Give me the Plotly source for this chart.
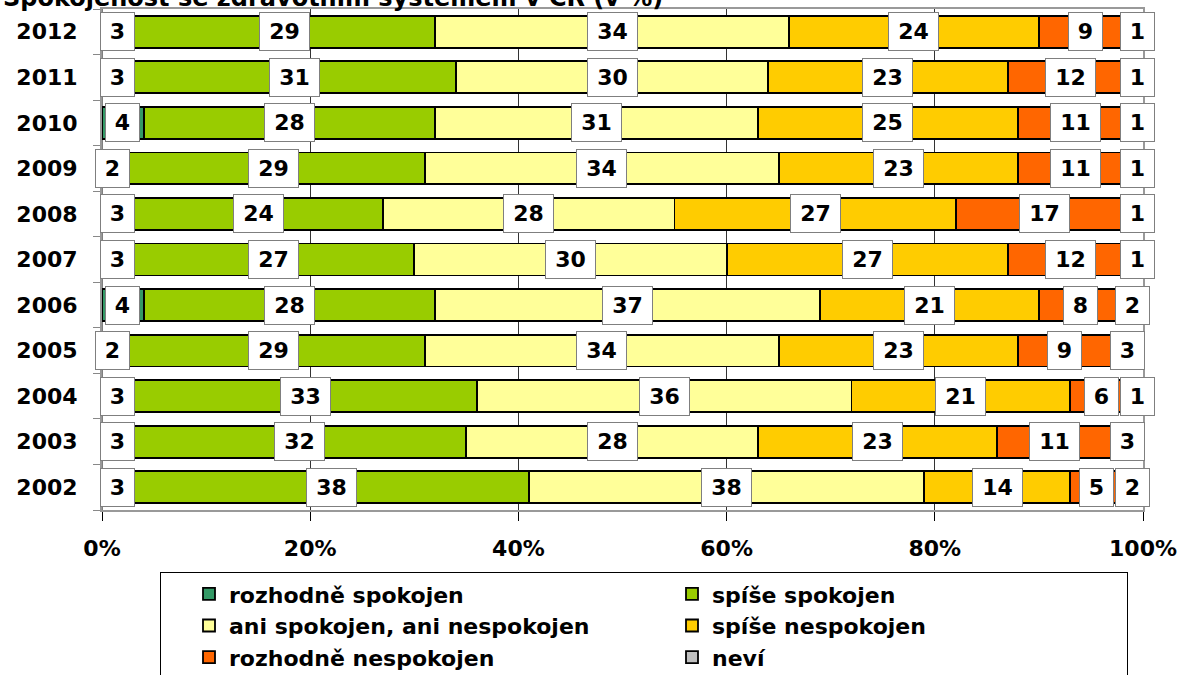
import numpy as np
import plotly.graph_objects as go

years = ["2012", "2011", "2010", "2009", "2008", "2007", "2006", "2005", "2004", "2003", "2002"]
series_names = ["rozhodně spokojen", "spíše spokojen", "ani spokojen, ani nespokojen",
                "spíše nespokojen", "rozhodně nespokojen", "neví"]
rozhodne_spokojen = [3, 3, 4, 2, 3, 3, 4, 2, 3, 3, 3]
spise_spokojen = [29, 31, 28, 29, 24, 27, 28, 29, 33, 32, 38]
ani_ani = [34, 30, 31, 34, 28, 30, 37, 34, 36, 28, 38]
spise_nespokojen = [24, 23, 25, 23, 27, 27, 21, 23, 21, 23, 14]
rozhodne_nespokojen = [9, 12, 11, 11, 17, 12, 8, 9, 6, 11, 5]
nevi = [1, 1, 1, 1, 1, 1, 2, 3, 1, 3, 2]
x_ticks = [0, 20, 40, 60, 80, 100]

series = [rozhodne_spokojen, spise_spokojen, ani_ani, spise_nespokojen, rozhodne_nespokojen, nevi]
colors = ["#339966", "#99CC00", "#FFFF99", "#FFCC00", "#FF6600", "#C0C0C0"]

FONT = "DejaVu Sans"

# category order on the axis (bottom -> top)
cat_order = years[::-1]

fig = go.Figure()
for name, vals, col in zip(series_names, series, colors):
    fig.add_trace(go.Bar(
        y=years, x=vals, name=name, orientation="h",
        marker=dict(color=col, line=dict(color="black", width=1.8)),
    ))

# value labels centred on each segment (y given as category index,
# because numeric-looking category names are read as indices by annotations)
cum = np.zeros(len(years))
annotations = []
for vals in series:
    v = np.array(vals, dtype=float)
    centers = cum + v / 2
    for yr, c, val in zip(years, centers, vals):
        txt = str(val)
        annotations.append(dict(
            x=float(c), y=cat_order.index(yr), xref="x", yref="y", text=txt, showarrow=False,
            font=dict(family=FONT, size=22, color="black", weight="bold"),
            bgcolor="white", bordercolor="#7f7f7f", borderwidth=1, borderpad=6,
            width=16 * len(txt) + 5, align="center",
        ))
    cum = cum + v

fig.update_layout(
    barmode="stack",
    bargap=0.30,
    width=1186, height=675,
    margin=dict(l=102, r=43, t=9, b=165, autoexpand=False),
    paper_bgcolor="white", plot_bgcolor="white",
    font=dict(family=FONT, color="black"),
    title=dict(
        text="Spokojenost se zdravotním systémem v ČR (v %)",
        font=dict(family=FONT, size=24, color="black", weight="bold"),
        xref="container", x=0.0025, xanchor="left",
        yref="paper", y=1, yanchor="bottom", pad=dict(b=3, t=0, l=0, r=0),
        automargin=False,
    ),
    xaxis=dict(
        range=[0, 100], autorange=False,
        tickvals=x_ticks, ticktext=["%d%%" % t for t in x_ticks],
        tickfont=dict(family=FONT, size=22, color="black", weight="bold"),
        showgrid=True, gridcolor="#333333", gridwidth=1,
        zeroline=False, automargin=False,
        showline=True, mirror=True, linecolor="#999999", linewidth=2,
        ticks="outside", ticklen=9, tickcolor="black", tickwidth=1,
        ticklabelstandoff=9,
    ),
    yaxis=dict(
        type="category",
        categoryorder="array", categoryarray=cat_order,
        range=[-0.5, len(cat_order) - 0.5], autorange=False,
        tickfont=dict(family=FONT, size=22, color="black", weight="bold"),
        showgrid=False, zeroline=False, automargin=False,
        showline=True, mirror=True, linecolor="#999999", linewidth=2,
        ticks="outside", tickson="boundaries", ticklen=7, tickcolor="#888888",
        ticklabelstandoff=18,
    ),
    legend=dict(
        orientation="h", traceorder="normal",
        x=160 / 1186, xanchor="left", xref="container",
        y=-0.124, yanchor="top", yref="paper",
        bgcolor="white", bordercolor="black", borderwidth=1,
        font=dict(family=FONT, size=22, color="black", weight="bold"),
        entrywidth=410, entrywidthmode="pixels", indentation=28,
        itemclick=False, itemdoubleclick=False,
    ),
    annotations=annotations,
    showlegend=True,
)

# black line at 0 %
fig.add_shape(type="line", xref="x", yref="paper", x0=0, x1=0, y0=0, y1=1,
              line=dict(color="black", width=1), layer="above")

fig.write_html("out.html", config={"displayModeBar": False},
               post_script="document.body.style.margin='0px';")
